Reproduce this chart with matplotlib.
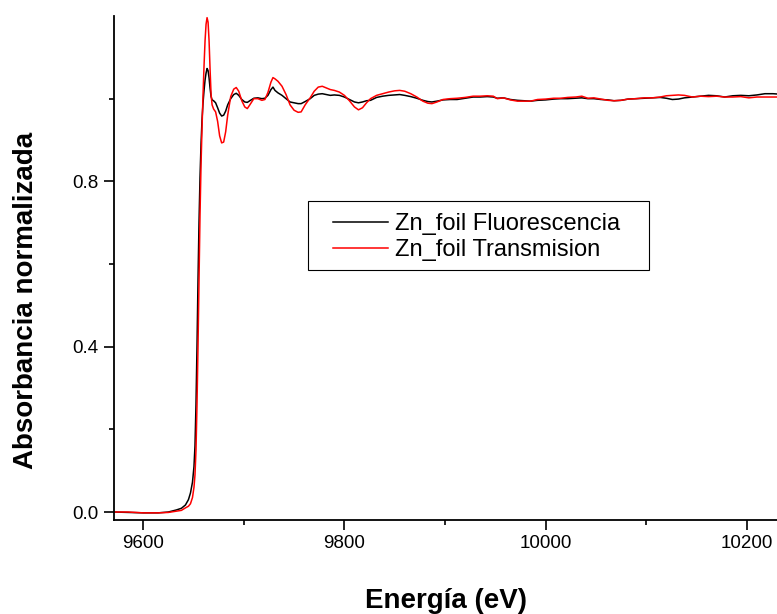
"""
Espectro XANES del borde K del Zn: fluorescencia vs transmision
"""

import matplotlib
matplotlib.use('Agg')
import matplotlib.pyplot as plt
from matplotlib.patches import Rectangle
from matplotlib.ticker import MultipleLocator, FixedLocator

plt.rcParams['font.family'] = ['Liberation Sans', 'DejaVu Sans']

# energia (eV)
energia = [9571, 9585, 9600, 9615, 9625, 9633, 9638, 9642, 9645, 9647,
           9649, 9650.5, 9651.5, 9652.5, 9653.5, 9654.5, 9655.5, 9656.5, 9657.5, 9658.5,
           9659.5, 9660.5, 9661.5, 9662.5, 9663.5, 9664.5, 9665.5, 9666.5, 9667.5, 9668.5,
           9670, 9672, 9674, 9676, 9678, 9680, 9682, 9684, 9687, 9690,
           9692.5, 9695, 9698, 9701, 9703.5, 9706, 9710, 9714, 9718, 9721,
           9724, 9727, 9729, 9731, 9734, 9738, 9742, 9746, 9750, 9754,
           9757, 9761, 9766, 9770, 9774, 9778, 9782, 9786, 9790, 9795,
           9800, 9805, 9810, 9814, 9818, 9822, 9826, 9832, 9838, 9844,
           9850, 9855, 9860, 9866, 9872, 9878, 9883, 9887, 9892, 9898,
           9905, 9912, 9920, 9928, 9935, 9942, 9948, 9952, 9958, 9965,
           9972, 9978, 9985, 9992, 10000, 10008, 10015, 10022, 10030, 10036,
           10042, 10048, 10055, 10062, 10068, 10075, 10082, 10090, 10098, 10106,
           10114, 10120, 10126, 10132, 10138, 10146, 10154, 10162, 10170, 10178,
           10186, 10194, 10202, 10210, 10218, 10226, 10232]

fluorescencia = [0.000, -0.001, -0.002, -0.002, 0.000, 0.005, 0.009, 0.017, 0.030, 0.046,
                 0.072, 0.110, 0.160, 0.260, 0.400, 0.560, 0.700, 0.810, 0.890, 0.950,
                 0.990, 1.020, 1.045, 1.062, 1.073, 1.068, 1.050, 1.025, 1.005, 0.997,
                 0.995, 0.990, 0.978, 0.965, 0.958, 0.960, 0.970, 0.985, 1.000, 1.010,
                 1.013, 1.008, 0.998, 0.992, 0.991, 0.995, 1.001, 1.002, 1.000, 1.001,
                 1.008, 1.022, 1.028, 1.020, 1.014, 1.008, 1.000, 0.992, 0.990, 0.988,
                 0.988, 0.993, 1.000, 1.008, 1.011, 1.012, 1.010, 1.008, 1.009, 1.008,
                 1.004, 0.998, 0.992, 0.990, 0.992, 0.995, 0.996, 1.003, 1.006, 1.008,
                 1.009, 1.010, 1.008, 1.005, 1.001, 0.996, 0.993, 0.992, 0.994, 0.997,
                 0.998, 0.998, 1.001, 1.004, 1.004, 1.005, 1.004, 1.001, 1.002, 0.998,
                 0.996, 0.995, 0.994, 0.996, 0.997, 0.999, 1.000, 1.000, 1.001, 1.002,
                 1.000, 1.000, 0.998, 0.997, 0.995, 0.996, 0.999, 1.000, 1.001, 1.002,
                 1.003, 1.001, 0.998, 0.999, 1.002, 1.004, 1.006, 1.008, 1.007, 1.004,
                 1.007, 1.008, 1.007, 1.009, 1.012, 1.012, 1.011]

transmision = [0.000, 0.000, -0.002, -0.002, -0.001, 0.002, 0.004, 0.010, 0.014, 0.020,
               0.035, 0.060, 0.090, 0.150, 0.260, 0.400, 0.560, 0.720, 0.840, 0.930,
               1.010, 1.080, 1.140, 1.180, 1.196, 1.185, 1.140, 1.070, 1.010, 0.985,
               0.975, 0.968, 0.945, 0.910, 0.893, 0.895, 0.920, 0.960, 1.005, 1.023,
               1.027, 1.018, 0.995, 0.980, 0.976, 0.985, 1.000, 1.000, 0.996, 0.998,
               1.015, 1.040, 1.051, 1.048, 1.042, 1.030, 1.010, 0.985, 0.972, 0.967,
               0.968, 0.985, 1.002, 1.018, 1.028, 1.030, 1.026, 1.022, 1.020, 1.016,
               1.008, 0.995, 0.980, 0.973, 0.978, 0.990, 1.000, 1.008, 1.012, 1.016,
               1.019, 1.020, 1.018, 1.012, 1.004, 0.994, 0.989, 0.988, 0.992, 0.998,
               1.000, 1.001, 1.003, 1.006, 1.006, 1.007, 1.006, 1.000, 1.002, 0.997,
               0.994, 0.994, 0.994, 0.998, 0.999, 1.001, 1.001, 1.003, 1.004, 1.006,
               1.001, 1.002, 0.999, 0.996, 0.995, 0.996, 0.999, 1.000, 1.002, 1.002,
               1.004, 1.007, 1.008, 1.009, 1.008, 1.004, 1.006, 1.005, 1.006, 1.004,
               1.004, 1.005, 1.002, 1.004, 1.004, 1.004, 1.004]

yticks = [0.0, 0.4, 0.8]
yticks_menores = [0.2, 0.6, 1.0]

fig = plt.figure(figsize=(7.77, 6.14), dpi=100)
ax = fig.add_axes([114 / 777, 94 / 614, 1 - 114 / 777, (520 - 16) / 614])

ax.plot(energia, fluorescencia, color='black', lw=1.1, label='Zn_foil Fluorescencia')
ax.plot(energia, transmision, color='red', lw=1.1, label='Zn_foil Transmision')

ax.set_xlim(9571, 10230)
ax.set_ylim(-0.0193, 1.2)
ax.xaxis.set_major_locator(MultipleLocator(200))
ax.xaxis.set_minor_locator(MultipleLocator(100))
ax.yaxis.set_major_locator(FixedLocator(yticks))
ax.yaxis.set_minor_locator(FixedLocator(yticks_menores))
ax.yaxis.set_major_formatter(plt.FuncFormatter(lambda v, p: f'{v:.1f}'))

for s in ['top', 'right']:
    ax.spines[s].set_visible(False)
for s in ['left', 'bottom']:
    ax.spines[s].set_linewidth(1.3)
ax.tick_params(which='major', direction='out', length=7, width=1.2, labelsize=13.5, pad=4)
ax.tick_params(which='minor', direction='out', length=3.5, width=1.2)

# leyenda con marco propio
leg = ax.legend(loc='center left', bbox_to_anchor=(333 / 777, 1 - 237 / 614),
                bbox_transform=fig.transFigure, frameon=False, fontsize=17,
                borderpad=0, borderaxespad=0, handlelength=2.33, handletextpad=0.3,
                labelspacing=0.15)
fig.patches.append(Rectangle((308 / 777, 1 - 270 / 614), (649 - 308) / 777, 69 / 614,
                             transform=fig.transFigure, fill=False, ec='black', lw=0.8))

fig.text(33.5 / 777, 1 - 300 / 614, 'Absorbancia normalizada', rotation=90,
         rotation_mode='anchor', ha='center', va='baseline', fontsize=20, weight='bold')
fig.text(446 / 777, 1 - 607.5 / 614, 'Energía (eV)', ha='center', va='baseline',
         fontsize=20, weight='bold')

fig.savefig('out.png', dpi=100)
